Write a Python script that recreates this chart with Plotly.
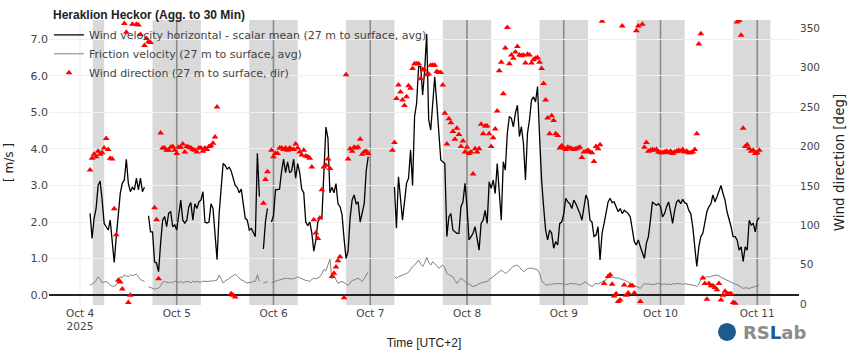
import pandas as pd
import plotly.graph_objects as go

# ---------------- data (30-min aggregates, local time UTC+2) ----------------
start_time = "2025-10-04 02:30"

wind_speed = (
    [2.24, 1.55, 2.1, 2.37, 3.0, 3.12, 2.6, 1.96, 1.87, 1.78, 2.05, 1.42, 0.89, 1.6,
     2.24, 2.79, 3.06, 3.15, 3.72, 3.06, 2.83, 2.95, 2.88, 3.2, 2.88, 3.2, 2.83, 2.95]
    + [None]
    + [2.17, 1.73, 1.73, 0.91, 0.87, 0.64, 1.42, 2.05, 2.15, 1.87, 2.24, 2.28, 1.87, 1.92,
       1.78, 2.24, 2.6, 2.05, 1.97, 2.05, 2.42, 2.53, 2.05, 2.5, 2.37, 2.55, 2.6, 2.83,
       2.0, 1.97, 2.0, 2.5, 2.37, 1.67, 0.97, 2.2, 3.0, 3.6, 3.55, 3.45, 3.5, 3.4,
       3.2, 3.0, 2.95, 2.8, 2.9, 2.5, 2.1, 2.05, 1.78, 1.82, 1.7, 1.6, 3.88, 2.7]
    + [None]
    + [1.26, 2.0, 2.37]
    + [None]
    + [2.0, 2.18, 2.88, 2.9, 2.9, 3.38, 3.72, 3.35, 3.65, 3.35, 3.4, 3.72, 3.2, 3.6,
       3.35, 2.9, 2.8, 2.0, 1.9, 2.0]
    + [1.7, 1.2, 1.5, 2.0, 2.12, 2.1, 3.2, 4.6, 4.3, 2.8, 2.95, 2.8, 3.05, 2.5, 2.42,
       2.2, 1.55, 1.0, 1.2, 2.1, 2.6, 2.74, 2.5, 2.55, 2.0, 2.23, 2.5, 3.4, 3.79]
    + [None] * 12
    + [2.96, 1.83, 3.24, 2.6, 2.05, 2.55, 3.06, 3.2, 3.97, 3.0, 4.89, 5.25, 6.26, 6.26,
       5.48, 6.16, 7.15, 4.8, 4.52, 5.25, 5.98, 5.25, 4.3, 3.7, 3.65, 3.6, 1.6, 2.14,
       2.23, 1.78, 1.73, 1.69, 1.69, 2.42, 2.55, 3.06, 2.42, 1.51, 1.6, 1.69, 1.87, 1.51,
       1.23, 1.96, 2.05, 2.32, 1.96, 3.1, 2.92, 3.15, 2.78, 3.6, 2.74, 2.05, 3.65, 3.42,
       4.43, 4.89, 4.84, 4.61, 4.98, 5.2, 4.34, 4.61, 4.15, 3.15, 4.43]
    + [4.8, 5.34, 5.43, 5.29, 5.71, 4.34, 3.15, 2.42, 1.78, 1.51, 1.78, 1.69, 1.28, 1.46,
       1.37, 1.96, 2.0, 2.23, 2.65, 2.55, 2.5, 2.37, 2.6, 2.5, 2.37, 2.23, 2.05, 2.37,
       2.74, 2.6, 2.05, 2.0, 1.6, 1.64, 1.87, 0.96, 1.69, 1.96, 2.23, 2.55, 2.65, 2.53,
       2.55, 2.42, 2.28, 2.37, 2.23, 2.32, 2.28, 2.23, 2.14, 1.78, 1.46, 1.37, 1.51, 1.32,
       1.14, 1.0, 1.42, 1.6, 2.05, 2.55, 2.5, 2.46, 2.5, 2.42, 2.14, 2.23, 2.42, 2.55,
       2.28, 1.96, 2.32, 2.55, 2.6, 2.5, 2.62, 2.53, 2.5, 2.32, 2.23, 1.87, 1.32, 0.78,
       1.32, 1.6, 1.69, 2.05, 2.28, 2.42, 2.5, 2.74, 2.55, 2.69, 2.87, 3.0, 2.78, 2.6,
       2.28, 2.1, 1.87, 1.6, 1.6, 1.51, 1.23, 1.32, 0.92, 1.32, 1.23, 2.05, 1.92, 1.96,
       1.73, 2.05, 2.12]
)

friction_velocity = (
    [0.27, 0.29, 0.33, 0.40, 0.50, 0.44, 0.33, 0.36, 0.37, 0.33, 0.28, 0.23, 0.25, 0.27,
     0.38, 0.50, 0.47, 0.55, 0.52, 0.50, 0.56, 0.53, 0.55, 0.57, 0.50, 0.42, 0.40, 0.37]
    + [None]
    + [0.23, 0.20, 0.18, 0.16, 0.17, 0.19, 0.25, 0.35, 0.37, 0.34, 0.33, 0.36, 0.33, 0.38,
       0.37, 0.34, 0.38, 0.33, 0.36, 0.37, 0.37, 0.33, 0.38, 0.35, 0.37, 0.36, 0.35, 0.38,
       0.37, 0.36, 0.37, 0.39, 0.38, 0.40, 0.41, 0.55, 0.42, 0.33, 0.38, 0.42, 0.46, 0.48,
       0.52, 0.57, 0.52, 0.47, 0.41, 0.40, 0.35, 0.33, 0.33, 0.35, 0.37, 0.37, 0.55, 0.38]
    + [None]
    + [0.33, 0.36, 0.37]
    + [None]
    + [0.33, 0.36, 0.38, 0.40, 0.41, 0.43, 0.45, 0.46, 0.45, 0.44, 0.43, 0.44, 0.47, 0.50,
       0.47, 0.44, 0.41, 0.40, 0.39, 0.37]
    + [0.43, 0.46, 0.44, 0.48, 0.50, 0.58, 0.70, 0.66, 0.80, 0.98, 0.45, 0.55, 0.42, 0.32,
       0.35, 0.37, 0.34, 0.30, 0.26, 0.33, 0.40, 0.41, 0.43, 0.46, 0.42, 0.37, 0.45, 0.55,
       0.64]
    + [None] * 12
    + [0.50, 0.46, 0.50, 0.53, 0.55, 0.57, 0.59, 0.62, 0.70, 0.78, 0.82, 0.88, 0.96, 0.85,
       0.78, 0.88, 1.03, 0.90, 0.82, 0.91, 0.86, 0.80, 0.73, 0.78, 0.82, 0.75, 0.59, 0.56,
       0.52, 0.50, 0.40, 0.32, 0.40, 0.46, 0.42, 0.36, 0.32, 0.30, 0.26, 0.23, 0.25, 0.28,
       0.32, 0.33, 0.35, 0.36, 0.37, 0.42, 0.46, 0.50, 0.55, 0.59, 0.63, 0.68, 0.64, 0.59,
       0.62, 0.68, 0.74, 0.79, 0.80, 0.82, 0.76, 0.70, 0.64, 0.68, 0.72]
    + [0.73, 0.74, 0.72, 0.70, 0.69, 0.60, 0.40, 0.33, 0.28, 0.27, 0.30, 0.28, 0.32, 0.30,
       0.31, 0.32, 0.30, 0.32, 0.28, 0.30, 0.31, 0.32, 0.30, 0.31, 0.29, 0.27, 0.30, 0.33,
       0.37, 0.30, 0.26, 0.23, 0.28, 0.32, 0.30, 0.33, 0.36, 0.37, 0.42, 0.48, 0.50, 0.49,
       0.47, 0.46, 0.47, 0.44, 0.42, 0.41, 0.38, 0.35, 0.32, 0.30, 0.26, 0.23, 0.21, 0.18,
       0.25, 0.32, 0.30, 0.31, 0.30, 0.28, 0.30, 0.31, 0.32, 0.30, 0.29, 0.31, 0.28, 0.30,
       0.28, 0.31, 0.30, 0.32, 0.31, 0.30, 0.29, 0.31, 0.30, 0.28, 0.29, 0.27, 0.26, 0.23,
       0.30, 0.42, 0.46, 0.48, 0.50, 0.49, 0.51, 0.52, 0.53, 0.55, 0.52, 0.48, 0.46, 0.43,
       0.40, 0.37, 0.35, 0.33, 0.30, 0.28, 0.26, 0.22, 0.18, 0.20, 0.19, 0.18, 0.20, 0.22,
       0.25, 0.27, 0.27]
)

wind_direction = (
    [170, 185, 190, 187, 194, 190, 192, 198, 210, 196, 185, 184, 121, 88, 30, 28, 19,
     356, 345, 2, 11, 355, None, 355, 354, 342, None, 328]
    + [337]
    + [333, 332, None, 122, 107, 32, 217, 198, 198, 195, 195, 199, 200, 195, 191, 199,
       199, 203, 193, 200, 199, 198, 196, 195, 193, 198, 198, 194, 198, 196, 200, 201,
       204, 212, 250]
    + [None] * 6
    + [13, 11, 9]
    + [None] * 13
    + [128, 158, 168, None]
    + [195, 187, 191, 191, 198, 198, 196, 198, 195, 198, 196, 196, 203, 198, 193, 189,
       195, 188, 187, 185]
    + [174, 107, 90, 83, 109, 145, 174, 176, 184, 172, 35, 39, 47, 55, 60, None, 8, 291,
       184, 197, 194, 199, 198, 199, 209, 190, 193, 194, 191]
    + [None] * 11
    + [195, 205, 261, 278, 269, 259, 252, 263, 277, 274, 299, 305, 305, 305, 286, 298,
       297, 291, 292, 303, 303, 303, 295, 294, 294, 278, 242, 203, 235, 230, 219, 209,
       223, 215, 200, 207, 193, 199, 191, 193, 165, 197, 193, 197, 228, 216, 226, 226,
       216, 200, 211, 222, 245, 296, 307, 267, 325, 351, 305, 316, 312, 320, 327, 316,
       315, 316, 306, 317]
    + [316, 306, 310, 312, 313, 307, 299, 280, 259, 236, 216, 239, 233, 216, 214, 198,
       201, 198, 196, 199, 198, 197, 196, 197, 198, 199, 186, 193, 194, 195, 193, 192,
       181, 200, 197, 202, 359, 26, None, 35, 37, 25, 10, 13, 3, 5, 353, 24, 11, 14, 23,
       23, 14, 347, 353, 3, 355, 199, 205, 194, 195, 196, 195, 196, 193, 192, 192, 193,
       194, 192, 194, 191, 193, 194, 195, 194, 196, 193, 194, 192, 192, 193, 196, 216,
       330, 343, 33, 26, 6, 26, 23, 23, 21, 18, 26, 5, 11, 16, 13, 13, 13, 2, 1, 358,
       360, 341, 223, 200, 202, 197, 194, 195, 191, 192, 195]
)

night_start = ["2025-10-04 03:10", "2025-10-04 18:00", "2025-10-05 18:00", "2025-10-06 18:00",
               "2025-10-07 18:00", "2025-10-08 18:00", "2025-10-09 18:00", "2025-10-10 18:00"]
night_end = ["2025-10-04 06:00", "2025-10-05 06:00", "2025-10-06 06:00", "2025-10-07 06:00",
             "2025-10-08 06:00", "2025-10-09 06:00", "2025-10-10 06:00", "2025-10-11 03:15"]
day_lines = ["2025-10-05", "2025-10-06", "2025-10-07", "2025-10-08", "2025-10-09",
             "2025-10-10", "2025-10-11"]
light_day_lines = ["2025-10-04"]

n = len(wind_speed)
assert len(friction_velocity) == n, (len(friction_velocity), n)
assert len(wind_direction) == n, (len(wind_direction), n)
times = pd.date_range(start_time, periods=n, freq="30min")

# ---------------- figure ----------------
fig = go.Figure()
fig.add_trace(go.Scatter(
    x=times, y=wind_speed, mode="lines", name="Wind velocity horizontal - scalar mean (27 m to surface, avg)",
    line=dict(color="#000000", width=1.3), connectgaps=False))
fig.add_trace(go.Scatter(
    x=times, y=friction_velocity, mode="lines", name="Friction velocity (27 m to surface, avg)",
    line=dict(color="#808080", width=1), connectgaps=False))
fig.add_trace(go.Scatter(
    x=times, y=wind_direction, mode="markers", name="Wind direction (27 m to surface, dir)",
    marker=dict(symbol="triangle-up", size=6, color="#ff0000"), yaxis="y2"))

shapes = []
for s, e in zip(night_start, night_end):
    shapes.append(dict(type="rect", xref="x", yref="paper", x0=s, x1=e, y0=0, y1=1,
                       fillcolor="#d9d9d9", line=dict(width=0), layer="below"))
for d in light_day_lines:
    shapes.append(dict(type="line", xref="x", yref="paper", x0=d, x1=d, y0=0, y1=1,
                       line=dict(color="#eeeeee", width=1), layer="below"))
for d in day_lines:
    shapes.append(dict(type="line", xref="x", yref="paper", x0=d, x1=d, y0=0, y1=1,
                       line=dict(color="#8a8a8a", width=1.6), layer="below"))
# logo circle
shapes.append(dict(type="circle", xref="paper", yref="paper", x0=0.892, x1=0.916,
                   y0=-0.126, y1=-0.063, fillcolor="#1f5a8c", line=dict(width=0)))

fig.update_layout(
    width=850, height=350,
    margin=dict(l=49, r=51, t=20, b=45),
    paper_bgcolor="white", plot_bgcolor="white",
    font=dict(family="DejaVu Sans", size=11, color="#444"),
    title=dict(text="<b>Heraklion Heckor (Agg. to 30 Min)</b>", xref="container", x=53 / 850,
               xanchor="left", yref="container", y=1 - 15 / 350, yanchor="middle",
               font=dict(family="Liberation Sans", size=12, color="#222")),
    showlegend=True,
    legend=dict(x=0.0, y=0.999, xanchor="left", yanchor="top", bgcolor="rgba(0,0,0,0)",
                font=dict(family="DejaVu Sans", size=11, color="#444"), tracegroupgap=0),
    xaxis=dict(type="date", range=["2025-10-03 16:19", "2025-10-11 10:21"], automargin=False,
               tick0="2025-10-04", dtick=86400000, showgrid=False, zeroline=False,
               showline=False, ticks="", tickfont=dict(size=10.5, color="#444"),
               title=dict(text="Time [UTC+2]", standoff=8,
                          font=dict(family="Liberation Sans", size=12, color="#222"))),
    yaxis=dict(range=[-0.274, 7.534], dtick=1, tick0=0, tickformat=".1f", automargin=False,
               showgrid=True, gridcolor="#eeeeee", zeroline=True, zerolinecolor="#222",
               zerolinewidth=1.5, showline=False, ticks="", tickfont=dict(size=11),
               title=dict(text="[ m/s ]", standoff=14, font=dict(size=12, color="#222"))),
    yaxis2=dict(overlaying="y", side="right", range=[-1.3, 360.5], dtick=50, tick0=0,
                automargin=False,
                showgrid=False, zeroline=False, showline=False, ticks="",
                tickfont=dict(size=10.5),
                title=dict(text="Wind direction [deg]", standoff=15,
                           font=dict(size=13.5, color="#222"))),
    shapes=shapes,
    annotations=[dict(xref="paper", yref="paper", x=0.967, y=-0.095, xanchor="center",
                      yanchor="middle", showarrow=False,
                      text="<b><span style='color:#8c8c8c'>RS</span><span style='color:#1f5a8c'>L</span>"
                           "<span style='color:#8c8c8c'>ab</span></b>",
                      font=dict(family="DejaVu Sans", size=18))],
)

fig.write_html("out.html")
